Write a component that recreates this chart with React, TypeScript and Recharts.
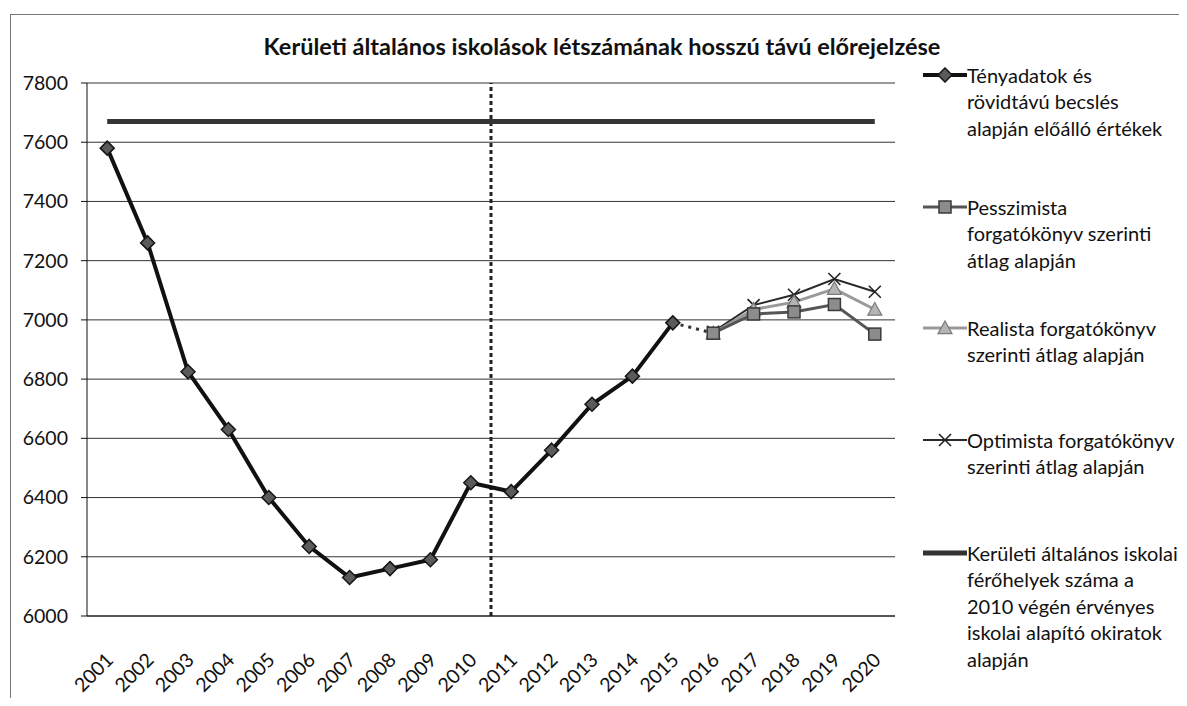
import React from 'react';
import { ComposedChart, Line, XAxis, YAxis, CartesianGrid, ReferenceLine } from 'recharts';

const years = ['2001', '2002', '2003', '2004', '2005', '2006', '2007', '2008', '2009', '2010', '2011', '2012', '2013', '2014', '2015', '2016', '2017', '2018', '2019', '2020'];
const actual = [7580, 7260, 6825, 6630, 6400, 6235, 6130, 6160, 6190, 6450, 6420, 6560, 6715, 6810, 6990, null, null, null, null, null];
const bridge = [null, null, null, null, null, null, null, null, null, null, null, null, null, null, 6990, 6955, null, null, null, null];
const pessimist = [null, null, null, null, null, null, null, null, null, null, null, null, null, null, null, 6955, 7020, 7027, 7052, 6952];
const realist = [null, null, null, null, null, null, null, null, null, null, null, null, null, null, null, 6955, 7035, 7060, 7105, 7035];
const optimist = [null, null, null, null, null, null, null, null, null, null, null, null, null, null, null, 6960, 7050, 7085, 7138, 7095];
const capacity = [7670, 7670, 7670, 7670, 7670, 7670, 7670, 7670, 7670, 7670, 7670, 7670, 7670, 7670, 7670, 7670, 7670, 7670, 7670, 7670];
const yTicks = [6000, 6200, 6400, 6600, 6800, 7000, 7200, 7400, 7600, 7800];
const forecastStartYear = '2011';

const title = 'Kerületi általános iskolások létszámának hosszú távú előrejelzése';
const legendItems = [
  { key: 'actual', lines: ['Tényadatok és', 'rövidtávú becslés', 'alapján előálló értékek'] },
  { key: 'pessimist', lines: ['Pesszimista', 'forgatókönyv szerinti', 'átlag alapján'] },
  { key: 'realist', lines: ['Realista forgatókönyv', 'szerinti átlag alapján'] },
  { key: 'optimist', lines: ['Optimista forgatókönyv', 'szerinti átlag alapján'] },
  { key: 'capacity', lines: ['Kerületi általános iskolai', 'férőhelyek száma a', '2010 végén érvényes', 'iskolai alapító okiratok', 'alapján'] },
];

const data = years.map((y, i) => ({
  year: y,
  actual: actual[i],
  bridge: bridge[i],
  pessimist: pessimist[i],
  realist: realist[i],
  optimist: optimist[i],
  capacity: capacity[i],
}));

const FONT = 'Lato, "Open Sans", sans-serif';

const Diamond = (props: any) => {
  const { cx, cy, value } = props;
  if (cx == null || cy == null || value == null) return null;
  const r = 7;
  return <path d={`M${cx},${cy - r} L${cx + r},${cy} L${cx},${cy + r} L${cx - r},${cy} Z`} fill="#5a5a5a" stroke="#151515" strokeWidth={1.5} />;
};
const Square = (props: any) => {
  const { cx, cy, value } = props;
  if (cx == null || cy == null || value == null) return null;
  const r = 6;
  return <rect x={cx - r} y={cy - r} width={2 * r} height={2 * r} fill="#8c8c8c" stroke="#3a3a3a" strokeWidth={1.5} />;
};
const Triangle = (props: any) => {
  const { cx, cy, value } = props;
  if (cx == null || cy == null || value == null) return null;
  const r = 7;
  return <path d={`M${cx},${cy - r} L${cx + r},${cy + r * 0.8} L${cx - r},${cy + r * 0.8} Z`} fill="#b4b4b4" stroke="#7a7a7a" strokeWidth={1.2} />;
};
const Cross = (props: any) => {
  const { cx, cy, value } = props;
  if (cx == null || cy == null || value == null) return null;
  const r = 6;
  return (
    <g stroke="#222" strokeWidth={1.6}>
      <line x1={cx - r} y1={cy - r} x2={cx + r} y2={cy + r} />
      <line x1={cx - r} y1={cy + r} x2={cx + r} y2={cy - r} />
    </g>
  );
};

const XTick = (props: any) => {
  const { x, y, payload } = props;
  const nx = Number(x);
  const ny = Number(y);
  return (
    <g transform={`translate(${nx},${ny})`}>
      <text x={2} y={40} transform="rotate(-45, 2, 40)" textAnchor="end" dominantBaseline="central" fontFamily={FONT} fontSize={19.5} fill="#111">
        {payload.value}
      </text>
    </g>
  );
};

const LegendIcon = ({ k }: { k: string }) => {
  const w = 44, h = 16, c = w / 2, m = h / 2;
  if (k === 'actual') return (
    <svg width={w} height={h}><line x1={0} y1={m} x2={w} y2={m} stroke="#111" strokeWidth={4} /><Diamond cx={c} cy={m} value={1} /></svg>
  );
  if (k === 'pessimist') return (
    <svg width={w} height={h}><line x1={0} y1={m} x2={w} y2={m} stroke="#555" strokeWidth={3} /><Square cx={c} cy={m} value={1} /></svg>
  );
  if (k === 'realist') return (
    <svg width={w} height={h}><line x1={0} y1={m} x2={w} y2={m} stroke="#999" strokeWidth={3} /><Triangle cx={c} cy={m} value={1} /></svg>
  );
  if (k === 'optimist') return (
    <svg width={w} height={h}><line x1={0} y1={m} x2={w} y2={m} stroke="#2a2a2a" strokeWidth={2} /><Cross cx={c} cy={m} value={1} /></svg>
  );
  return (
    <svg width={w} height={h}><line x1={0} y1={m} x2={w} y2={m} stroke="#333" strokeWidth={5} /></svg>
  );
};

const legendCenters = [67, 199, 320, 432, 545];
const LH = 26.5;

export default function App() {
  return (
    <div style={{ position: 'relative', width: 1171, height: 690, overflow: 'hidden', background: '#fff' }}>
      <div style={{ position: 'absolute', left: 2, top: 6, width: 1400, height: 900, border: '1.5px solid #777' }} />
      <div style={{ position: 'absolute', left: 0, top: 24, width: 1188, textAlign: 'center', fontFamily: FONT, fontWeight: 700, fontSize: 23.5, lineHeight: '28px', color: '#111' }}>
        {title}
      </div>
      <div style={{ position: 'absolute', left: 0, top: 0 }}>
        <ComposedChart width={900} height={690} data={data} margin={{ top: 75, right: 13, left: 0, bottom: 12 }}>
          <CartesianGrid vertical={false} stroke="#333" strokeWidth={1} />
          <XAxis dataKey="year" scale="band" interval={0} axisLine={{ stroke: '#111' }} tickLine={false} tickSize={0} tickMargin={0} height={70} tick={<XTick />} />
          <YAxis domain={[6000, 7800]} ticks={yTicks} width={79} tickSize={6} tickMargin={13} stroke="#111" tick={{ fontFamily: FONT, fontSize: 19.5, fill: '#111' }} interval={0} />
          <ReferenceLine x={forecastStartYear} position="start" stroke="#222" strokeWidth={3} strokeDasharray="4 3" />
          <Line dataKey="capacity" stroke="#353535" strokeWidth={5} dot={false} isAnimationActive={false} />
          <Line dataKey="bridge" stroke="#333" strokeWidth={3} strokeDasharray="3 5" dot={false} isAnimationActive={false} connectNulls={false} />
          <Line dataKey="actual" stroke="#111" strokeWidth={4} dot={<Diamond />} isAnimationActive={false} />
          <Line dataKey="optimist" stroke="#2a2a2a" strokeWidth={2} dot={<Cross />} isAnimationActive={false} />
          <Line dataKey="realist" stroke="#9a9a9a" strokeWidth={3} dot={<Triangle />} isAnimationActive={false} />
          <Line dataKey="pessimist" stroke="#555" strokeWidth={3} dot={<Square />} isAnimationActive={false} />
        </ComposedChart>
      </div>
      {legendItems.map((it, i) => (
        <React.Fragment key={it.key}>
          <div style={{ position: 'absolute', left: 915, top: legendCenters[i] - 8 }}>
            <LegendIcon k={it.key} />
          </div>
          <div style={{ position: 'absolute', left: 959, top: legendCenters[i] - LH / 2, fontFamily: FONT, fontSize: 20, lineHeight: `${LH}px`, color: '#111', whiteSpace: 'nowrap' }}>
            {it.lines.map((l, j) => (<div key={j}>{l}</div>))}
          </div>
        </React.Fragment>
      ))}
    </div>
  );
}
